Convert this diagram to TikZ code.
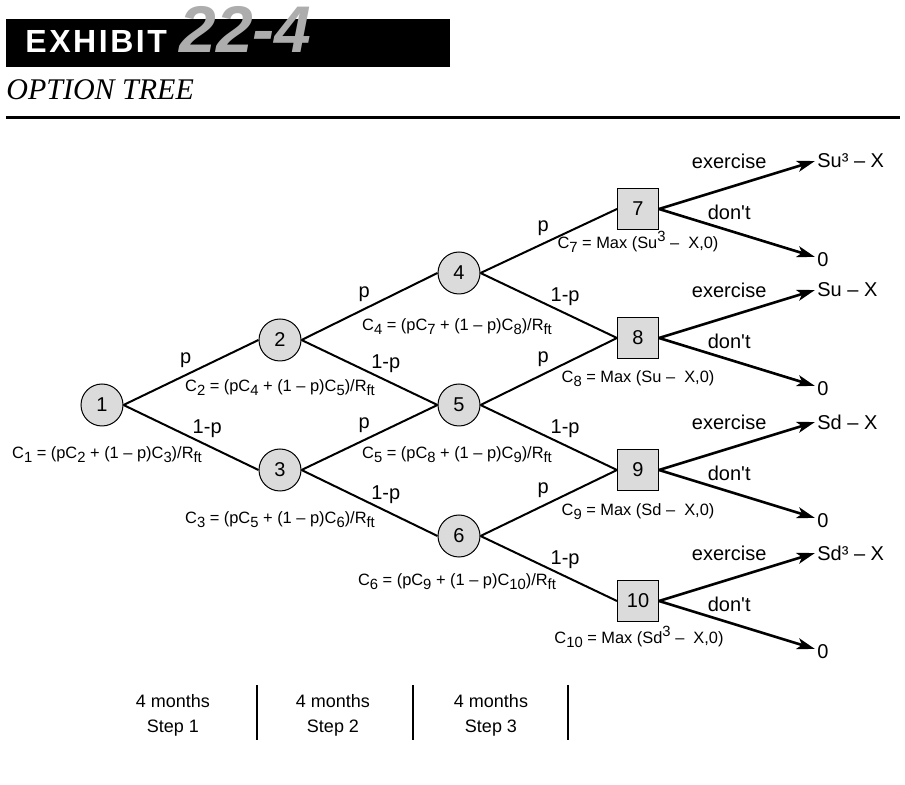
\documentclass[tikz,border=0pt]{standalone}
\usepackage{fontspec}
\setmainfont{Liberation Sans}
\newfontfamily\serifit{Liberation Serif}
\newfontfamily\exhibitfont[LetterSpace=8]{Liberation Sans}
\usetikzlibrary{arrows.meta, calc}
\definecolor{nodegray}{gray}{0.86}
\definecolor{exhibitgray}{gray}{0.68}
\newcommand{\idx}[1]{\raisebox{-2.3pt}{\fontsize{7.4}{7.4}\selectfont#1}}
\newcommand{\pow}[1]{\raisebox{3.4pt}{\fontsize{7.4}{7.4}\selectfont#1}}

\begin{document}
\begin{tikzpicture}[x=0.5pt, y=-0.5pt, >={Stealth[length=9pt,width=5.5pt,inset=2.2pt]},
  state/.style={circle, draw, line width=0.5pt, fill=nodegray, minimum size=21pt, inner sep=0pt, font=\fontsize{10}{12}\selectfont},
  stage/.style={rectangle, draw, line width=0.5pt, fill=nodegray, minimum size=20.5pt, inner sep=0pt, font=\fontsize{10}{12}\selectfont},
  branch/.style={line width=1pt},
  payoff/.style={line width=1.3pt, ->},
  prob/.style={font=\fontsize{10}{12}\selectfont},
  formula/.style={font=\fontsize{8.2}{10}\selectfont, anchor=mid, inner sep=0pt},
  period/.style={align=center, font=\fontsize{9}{12.5}\selectfont},
  divider/.style={line width=0.6pt}]
  \useasboundingbox (0,0) rectangle (905,785);
  % heading
  \fill (6,19) rectangle (450,67);
  \node[anchor=base west, inner sep=0pt, text=white, font=\exhibitfont\bfseries\fontsize{16}{16}\selectfont] (exhibit) at (25,53) {EXHIBIT};
  \node[anchor=base west, inner sep=0pt, text=exhibitgray, font=\bfseries\itshape\fontsize{33}{34}\selectfont] (number) at (179,53) {22-4};
  \node[anchor=base west, inner sep=0pt, font=\serifit\itshape\fontsize{15}{15}\selectfont] (title) at (6,100) {OPTION TREE};
  \draw[line width=1.5pt] (6,118) -- (900,118);
  % tree nodes
  \node[state] (n1) at (102,405) {1};
  \node[state] (n2) at (280,340) {2};
  \node[state] (n3) at (280,470) {3};
  \node[state] (n4) at (459,273) {4};
  \node[state] (n5) at (459,405) {5};
  \node[state] (n6) at (459,536) {6};
  \node[stage] (n7) at (638,209) {7};
  \node[stage] (n8) at (638,338) {8};
  \node[stage] (n9) at (638,470) {9};
  \node[stage] (n10) at (638,601) {10};
  % branches
  \foreach \a/\b in {1/2, 2/4, 3/5, 4/7, 5/8, 6/9}
    \draw[branch] (n\a.east) -- (n\b.west) node[prob, pos=0.46, above] {p};
  \foreach \a/\b in {1/3, 2/5, 3/6, 4/8, 5/9, 6/10}
    \draw[branch] (n\a.east) -- (n\b.west) node[prob, pos=0.62, above] {1-p};
  % values
  \node[formula] (f1) at (107,453) {C\idx{1} = (pC\idx{2} + (1 – p)C\idx{3})/R\idx{ft}};
  \node[formula] (f2) at (280,386) {C\idx{2} = (pC\idx{4} + (1 – p)C\idx{5})/R\idx{ft}};
  \node[formula] (f3) at (280,518) {C\idx{3} = (pC\idx{5} + (1 – p)C\idx{6})/R\idx{ft}};
  \node[formula] (f4) at (457,325) {C\idx{4} = (pC\idx{7} + (1 – p)C\idx{8})/R\idx{ft}};
  \node[formula] (f5) at (457,453) {C\idx{5} = (pC\idx{8} + (1 – p)C\idx{9})/R\idx{ft}};
  \node[formula] (f6) at (457,580) {C\idx{6} = (pC\idx{9} + (1 – p)C\idx{10})/R\idx{ft}};
  \node[formula] (f7) at (638,243) {C\idx{7} = Max (Su\pow{3} – \ X,0)};
  \node[formula] (f8) at (638,377) {C\idx{8} = Max (Su – \ X,0)};
  \node[formula] (f9) at (638,510) {C\idx{9} = Max (Sd – \ X,0)};
  \node[formula] (f10) at (639,638) {C\idx{10} = Max (Sd\pow{3} – \ X,0)};
  % exercise or not at expiry
  \foreach \n/\gain in {7/Su³ – X, 8/Su – X, 9/Sd – X, 10/Sd³ – X} {
    \coordinate (up\n) at ($(n\n.east)+(156,-48)$);
    \coordinate (down\n) at ($(n\n.east)+(156,48)$);
    \draw[payoff] (n\n.east) -- (up\n) node[prob, pos=0.45, above=5.5pt] {exercise};
    \draw[payoff] (n\n.east) -- (down\n) node[prob, pos=0.45, above=1.5pt] {don\textquotesingle t};
    \node[prob, anchor=west, inner sep=1pt] (hi\n) at (up\n) {\gain};
    \node[prob, anchor=west, inner sep=1pt, yshift=-1.5pt] (lo\n) at (down\n) {0};
  }
  % time steps
  \node[period] (s1) at (173,715) {4 months\\Step 1};
  \node[period] (s2) at (333,715) {4 months\\Step 2};
  \node[period] (s3) at (491,715) {4 months\\Step 3};
  \foreach \x in {257, 413, 568}
    \draw[divider] (\x,685) -- (\x,740);
\end{tikzpicture}
\end{document}
